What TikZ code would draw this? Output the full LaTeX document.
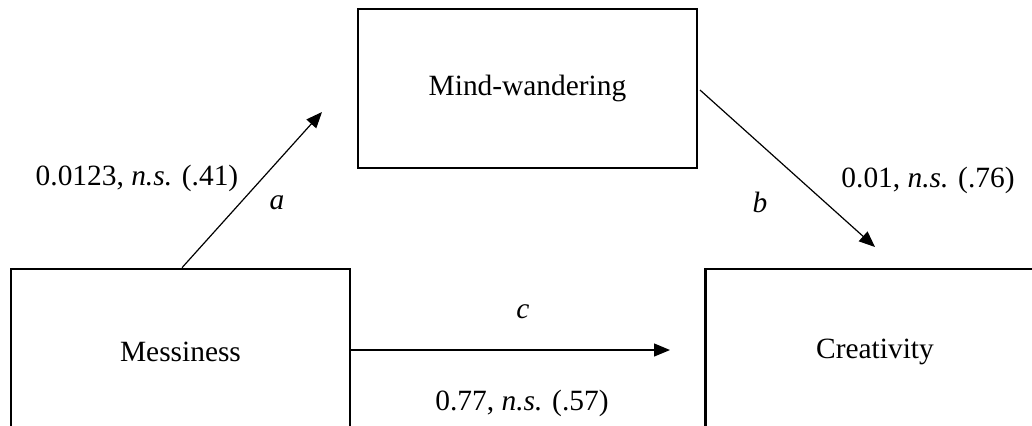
\documentclass[tikz,border=0pt]{standalone}
\usepackage{fontspec}
\setmainfont{Liberation Serif}
\usetikzlibrary{arrows.meta}
\begin{document}
\begin{tikzpicture}[x=0.5pt,y=-0.5pt,
  box/.style={draw,line width=1.3pt,minimum width=169.5pt,minimum height=83pt,inner sep=0pt,font=\fontsize{14.7}{17}\selectfont},
  lbl/.style={inner sep=0pt,font=\fontsize{14.7}{17}\selectfont},
  arr/.style={line width=0.6pt,-{Triangle[length=8pt,width=6.5pt]}}]
\clip (0,0) rectangle (1032,425);
\fill[white] (0,0) rectangle (1032,425);
\node[box] (ms) at (180.5,352) {Messiness};
\node[box] (cr) at (875,352) {Creativity};
\node[box,minimum height=79.5pt] (mw) at (527.5,88.5) {Mind-wandering};
\coordinate (aend) at (322,112);
\coordinate (bstart) at (700,90);
\coordinate (bend) at (875,247);
\coordinate (cend) at (670,350);
\draw[arr] ([xshift=0.75pt]ms.north) -- (aend);
\draw[arr] (bstart) -- (bend);
\draw[arr] (ms.east |- cend) -- (cend);
\node[lbl] (la) at (137,178) {0.0123, \textit{n.s.} (.41)};
\node[lbl] (a) at (277,203) {\textit{a}};
\node[lbl] (b) at (760,202) {\textit{b}};
\node[lbl] (lb) at (928,180) {0.01, \textit{n.s.} (.76)};
\node[lbl] (c) at (523,312) {\textit{c}};
\node[lbl] (lc) at (522,403) {0.77, \textit{n.s.} (.57)};
\end{tikzpicture}
\end{document}
